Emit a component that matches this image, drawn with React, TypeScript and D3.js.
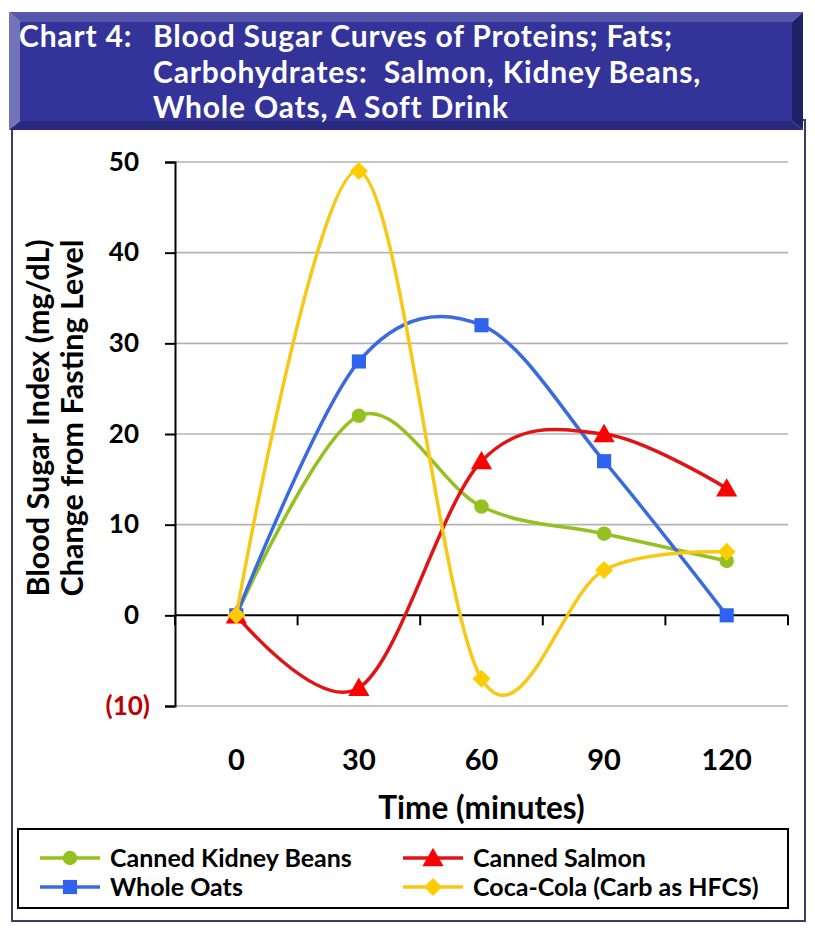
import * as d3 from "d3";
import { useEffect, useRef } from "react";

const times = ["0", "30", "60", "90", "120"];
const kidneyBeans = [0, 22, 12, 9, 6];
const wholeOats = [0, 28, 32, 17, 0];
const cannedSalmon = [0, -8, 17, 20, 14];
const cocaCola = [0, 49, -7, 5, 7];
const yTicks = [-10, 0, 10, 20, 30, 40, 50];

const titleLines = [
  "Blood Sugar Curves of Proteins; Fats;",
  "Carbohydrates:  Salmon, Kidney Beans,",
  "Whole Oats, A Soft Drink",
];

const FONT = "Lato, 'Open Sans', sans-serif";

type Series = {
  name: string;
  values: number[];
  color: string;
  fill: string;
  marker: "circle" | "square" | "triangle" | "diamond";
};

const series: Series[] = [
  { name: "Canned Kidney Beans", values: kidneyBeans, color: "#94C11F", fill: "#94C11F", marker: "circle" },
  { name: "Whole Oats", values: wholeOats, color: "#3A6AE0", fill: "#2F62EE", marker: "square" },
  { name: "Canned Salmon", values: cannedSalmon, color: "#E01414", fill: "#FF0000", marker: "triangle" },
  { name: "Coca-Cola (Carb as HFCS)", values: cocaCola, color: "#F7C815", fill: "#FFCC00", marker: "diamond" },
];

// marker outlines
const markerPath = (m: Series["marker"]) => {
  if (m === "diamond") return "M0,-9L9,0L0,9L-9,0Z";
  if (m === "circle") return d3.symbol().type(d3.symbolCircle).size(165)() as string;
  if (m === "square") return d3.symbol().type(d3.symbolSquare).size(200)() as string;
  return d3.symbol().type(d3.symbolTriangle).size(195)() as string;
};

const App = () => {
  const ref = useRef<SVGSVGElement | null>(null);

  useEffect(() => {
    const width = 815;
    const height = 935;
    const left = 175;
    const right = 788;
    const top = 162;
    const bottom = 706;

    const svg = d3.select(ref.current);
    svg.selectAll("*").remove();
    svg.attr("width", width).attr("height", height);

    // outer frame
    svg
      .append("rect")
      .attr("x", 12)
      .attr("y", 120)
      .attr("width", 793)
      .attr("height", 801)
      .attr("fill", "white")
      .attr("stroke", "#3C3C64")
      .attr("stroke-width", 2);

    // bevelled title bar
    const tb = { x0: 9, y0: 12, x1: 803, y1: 130, b: 11 };
    const bevel = svg.append("g");
    const poly = (pts: number[][], fill: string) =>
      bevel.append("polygon").attr("points", pts.map((p) => p.join(",")).join(" ")).attr("fill", fill);
    poly(
      [[tb.x0, tb.y0], [tb.x1, tb.y0], [tb.x1 - tb.b, tb.y0 + 10], [tb.x0 + tb.b, tb.y0 + 10]],
      "#5656AC"
    );
    poly(
      [[tb.x0, tb.y0], [tb.x0 + tb.b, tb.y0 + 10], [tb.x0 + tb.b, tb.y1 - 9], [tb.x0, tb.y1]],
      "#7373BA"
    );
    poly(
      [[tb.x1, tb.y0], [tb.x1, tb.y1], [tb.x1 - tb.b, tb.y1 - 9], [tb.x1 - tb.b, tb.y0 + 10]],
      "#21216A"
    );
    poly(
      [[tb.x0, tb.y1], [tb.x0 + tb.b, tb.y1 - 9], [tb.x1 - tb.b, tb.y1 - 9], [tb.x1, tb.y1]],
      "#28287C"
    );
    bevel
      .append("rect")
      .attr("x", tb.x0 + tb.b)
      .attr("y", tb.y0 + 10)
      .attr("width", tb.x1 - tb.x0 - 2 * tb.b)
      .attr("height", tb.y1 - tb.y0 - 19)
      .attr("fill", "#33339A");

    const title = svg
      .append("g")
      .attr("font-family", FONT)
      .attr("font-weight", "bold")
      .attr("font-size", 30)
      .attr("letter-spacing", 0.8)
      .attr("fill", "white");
    title.append("text").attr("x", 19).attr("y", 47).text("Chart 4:");
    titleLines.forEach((line, i) => {
      title
        .append("text")
        .attr("x", 153)
        .attr("y", 47 + i * 35.5)
        .style("white-space", "pre")
        .text(line);
    });

    // scales
    const x = d3.scaleBand<string>().domain(times).range([left, right]).padding(0);
    const y = d3.scaleLinear().domain([-10, 50]).range([bottom, top]);
    const cx = (t: string) => (x(t) as number) + x.bandwidth() / 2;

    // gridlines
    svg
      .append("g")
      .selectAll("line")
      .data(yTicks.filter((v) => v !== 0))
      .enter()
      .append("line")
      .attr("x1", left)
      .attr("x2", right)
      .attr("y1", (d) => y(d))
      .attr("y2", (d) => y(d))
      .attr("stroke", "#B3B3B3")
      .attr("stroke-width", 1.6);

    // y axis (accounting format: positives leave room for a closing bracket)
    const yAxis = svg
      .append("g")
      .attr("transform", `translate(${left},0)`)
      .call(
        d3
          .axisLeft(y)
          .tickValues(yTicks)
          .tickSize(10)
          .tickPadding(15)
          .tickFormat((d) => ((d as number) < 0 ? `(${-(d as number)})` : `${d}`))
      );
    yAxis.select(".domain").attr("stroke", "black").attr("stroke-width", 2);
    yAxis.selectAll(".tick line").attr("stroke", "black").attr("stroke-width", 2);
    yAxis
      .selectAll(".tick text")
      .attr("font-family", FONT)
      .attr("font-weight", "bold")
      .attr("font-size", 26)
      .attr("dx", (d) => ((d as number) < 0 ? 0 : -11))
      .attr("fill", (d) => ((d as number) < 0 ? "#C00000" : "black"));

    // x axis at zero with ticks at category boundaries
    const xAxis = svg.append("g").attr("stroke", "black").attr("stroke-width", 2);
    xAxis
      .append("line")
      .attr("x1", left)
      .attr("x2", right)
      .attr("y1", y(0))
      .attr("y2", y(0));
    const edges = [...times.map((t) => x(t) as number), right];
    xAxis
      .selectAll("line.tick")
      .data(edges)
      .enter()
      .append("line")
      .attr("class", "tick")
      .attr("x1", (d) => d)
      .attr("x2", (d) => d)
      .attr("y1", y(0))
      .attr("y2", y(0) + 10);

    svg
      .append("g")
      .selectAll("text")
      .data(times)
      .enter()
      .append("text")
      .attr("x", (d) => cx(d))
      .attr("y", 770)
      .attr("text-anchor", "middle")
      .attr("font-family", FONT)
      .attr("font-weight", "bold")
      .attr("font-size", 29)
      .text((d) => d);

    // axis titles
    svg
      .append("text")
      .attr("x", cx("60"))
      .attr("y", 819)
      .attr("text-anchor", "middle")
      .attr("font-family", FONT)
      .attr("font-weight", "bold")
      .attr("font-size", 31.5)
      .text("Time (minutes)");

    const yTitle = svg
      .append("text")
      .attr("transform", "translate(0,418) rotate(-90)")
      .attr("text-anchor", "middle")
      .attr("font-family", FONT)
      .attr("font-weight", "bold")
      .attr("font-size", 30.5);
    yTitle.append("tspan").attr("x", 0).attr("y", 49).text("Blood Sugar Index (mg/dL)");
    yTitle.append("tspan").attr("x", 0).attr("y", 83).text("Change from Fasting Level");

    // series
    const line = d3
      .line<number>()
      .x((_, i) => cx(times[i]))
      .y((d) => y(d))
      .curve(d3.curveCardinal.tension(0));

    series.forEach((s) => {
      const g = svg.append("g");
      g.append("path")
        .attr("d", line(s.values) as string)
        .attr("fill", "none")
        .attr("stroke", s.color)
        .attr("stroke-width", 3.5);
      g.selectAll("path.m")
        .data(s.values)
        .enter()
        .append("path")
        .attr("class", "m")
        .attr("transform", (d, i) => `translate(${cx(times[i])},${y(d) + (s.marker === "triangle" ? 2 : 0)})`)
        .attr("d", markerPath(s.marker))
        .attr("fill", s.fill);
    });

    // legend
    svg
      .append("rect")
      .attr("x", 18)
      .attr("y", 829)
      .attr("width", 770)
      .attr("height", 79)
      .attr("fill", "white")
      .attr("stroke", "black")
      .attr("stroke-width", 2);
    const legendPos = [
      [40, 858],
      [40, 887],
      [403, 858],
      [403, 887],
    ];
    series.forEach((s, i) => {
      const [lx, ly] = legendPos[i];
      const g = svg.append("g");
      g.append("line")
        .attr("x1", lx)
        .attr("x2", lx + 60)
        .attr("y1", ly)
        .attr("y2", ly)
        .attr("stroke", s.color)
        .attr("stroke-width", 3.5);
      g.append("path")
        .attr("transform", `translate(${lx + 30},${ly + (s.marker === "triangle" ? 2 : 0)})`)
        .attr("d", markerPath(s.marker))
        .attr("fill", s.fill);
      g.append("text")
        .attr("x", lx + 70)
        .attr("y", ly + 9)
        .attr("font-family", FONT)
        .attr("font-size", 25)
        .attr("font-weight", "bold")
        .text(s.name);
    });
  }, []);

  return (
    <div style={{ position: "absolute", left: 0, top: 0 }}>
      <svg ref={ref} />
    </div>
  );
};

export default App;
